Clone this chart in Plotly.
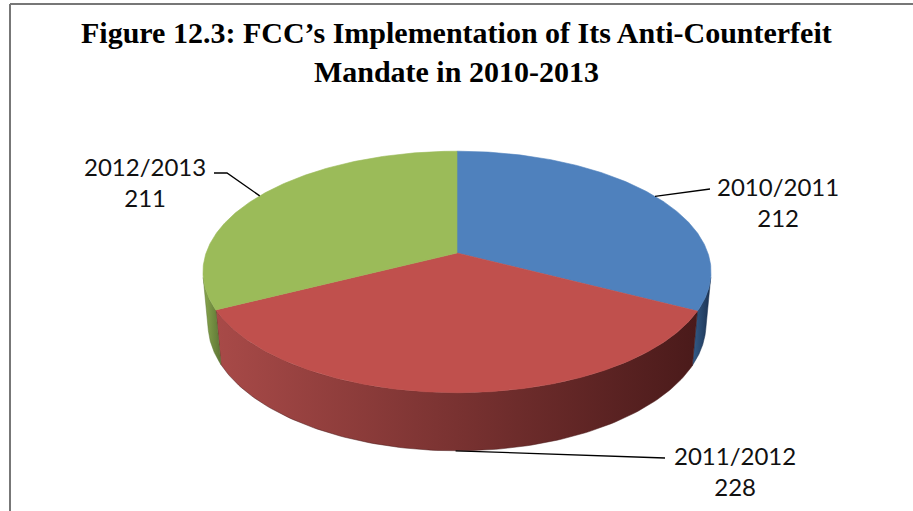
import numpy as np
import plotly.graph_objects as go

# ---- data ----
labels = ["2010/2011", "2011/2012", "2012/2013"]
values = [212, 228, 211]
top_colors = ["#4F81BD", "#C0504D", "#9BBB59"]
side_light = ["#355d8a", "#a84a48", "#8aa94f"]
side_dark = ["#1b3150", "#4a1a1a", "#5d7434"]
title_lines = ["Figure 12.3: FCC’s Implementation of Its Anti-Counterfeit",
               "Mandate in 2010-2013"]

# ---- 3D pie projection (pixel space) ----
W, HGT = 913, 511
CX, CY = 457, 253          # projected pie centre
R, D, F = 1.0, 5.62, 1410  # radius, camera distance, focal length
E = np.radians(28)         # elevation
TH = 0.239                 # thickness


def proj(theta_deg, z=0.0):
    t = np.radians(np.asarray(theta_deg, dtype=float))
    X = R * np.sin(t)
    Y = R * np.cos(t)
    depth = D + Y * np.cos(E) - z * np.sin(E)
    sx = F * X / depth
    sy = F * (Y * np.sin(E) + z * np.cos(E)) / depth
    return CX + sx, CY - sy


total = sum(values)
bounds = np.concatenate([[0], np.cumsum(values)]) / total * 360.0
vis = np.degrees(np.arccos(-R / (D * np.cos(E))))
vis0, vis1 = vis, 360 - vis

fig = go.Figure()

# side walls
for i in range(len(values)):
    a0, a1 = max(bounds[i], vis0), min(bounds[i + 1], vis1)
    if a1 <= a0:
        continue
    th = np.linspace(a0, a1, 120)
    xt, yt = proj(th, 0.0)
    xb, yb = proj(th[::-1], -TH)
    xs = np.concatenate([xt, xb, xt[:1]])
    ys = np.concatenate([yt, yb, yt[:1]])
    fig.add_trace(go.Scatter(
        x=xs, y=ys, mode="lines", line=dict(width=0.5, color=side_dark[i]),
        fill="toself",
        fillgradient=dict(type="horizontal",
                          colorscale=[[0, side_light[i]], [1, side_dark[i]]]),
        hoverinfo="skip", showlegend=False))

# top faces
for i in range(len(values)):
    th = np.linspace(bounds[i], bounds[i + 1], 200)
    xr, yr = proj(th, 0.0)
    xs = np.concatenate([[CX], xr, [CX]])
    ys = np.concatenate([[CY], yr, [CY]])
    fig.add_trace(go.Scatter(
        x=xs, y=ys, mode="lines", line=dict(width=0.6, color=top_colors[i]),
        fill="toself", fillcolor=top_colors[i],
        hoverinfo="skip", showlegend=False, name=labels[i]))

# leader lines and labels
mids = (bounds[:-1] + bounds[1:]) / 2
label_pos = [(778, 202), (735, 471), (145, 182)]
elbows = [[(710, 189)], [(665, 458)], [(227, 173), (214, 173)]]
for i in range(len(values)):
    z = -TH if vis0 < mids[i] < vis1 else 0.0
    sx, sy = proj(mids[i], z)
    px = [float(sx)] + [p[0] for p in elbows[i]]
    py = [float(sy)] + [p[1] for p in elbows[i]]
    fig.add_trace(go.Scatter(x=px, y=py, mode="lines",
                             line=dict(color="black", width=1.3),
                             hoverinfo="skip", showlegend=False))
    fig.add_annotation(x=label_pos[i][0], y=label_pos[i][1],
                       text=f"{labels[i]}<br>{values[i]}", showarrow=False,
                       xanchor="center", yanchor="middle", align="center",
                       font=dict(family="Lato, Calibri, sans-serif", size=24,
                                 color="#111111"))

# title
fig.add_annotation(x=0.5, y=52, xref="paper", text="<br>".join(title_lines),
                   showarrow=False, xanchor="center", yanchor="middle",
                   align="center",
                   font=dict(family="Liberation Serif, serif", size=30,
                             color="black", weight="bold"))

# frame
fig.add_shape(type="line", x0=10, x1=W + 5, y0=4, y1=4,
              line=dict(color="#777777", width=2))
fig.add_shape(type="line", x0=10, x1=10, y0=4, y1=HGT + 5,
              line=dict(color="#777777", width=2))

fig.update_layout(
    width=W, height=HGT, margin=dict(l=0, r=0, t=0, b=0),
    paper_bgcolor="white", plot_bgcolor="white",
    xaxis=dict(range=[0, W], visible=False, fixedrange=True),
    yaxis=dict(range=[HGT, 0], visible=False, fixedrange=True),
    showlegend=False,
)

fig.write_html("out.html",
               config={"displayModeBar": False, "staticPlot": True},
               post_script="document.body.style.margin='0';"
                           "document.body.style.overflow='hidden';")
